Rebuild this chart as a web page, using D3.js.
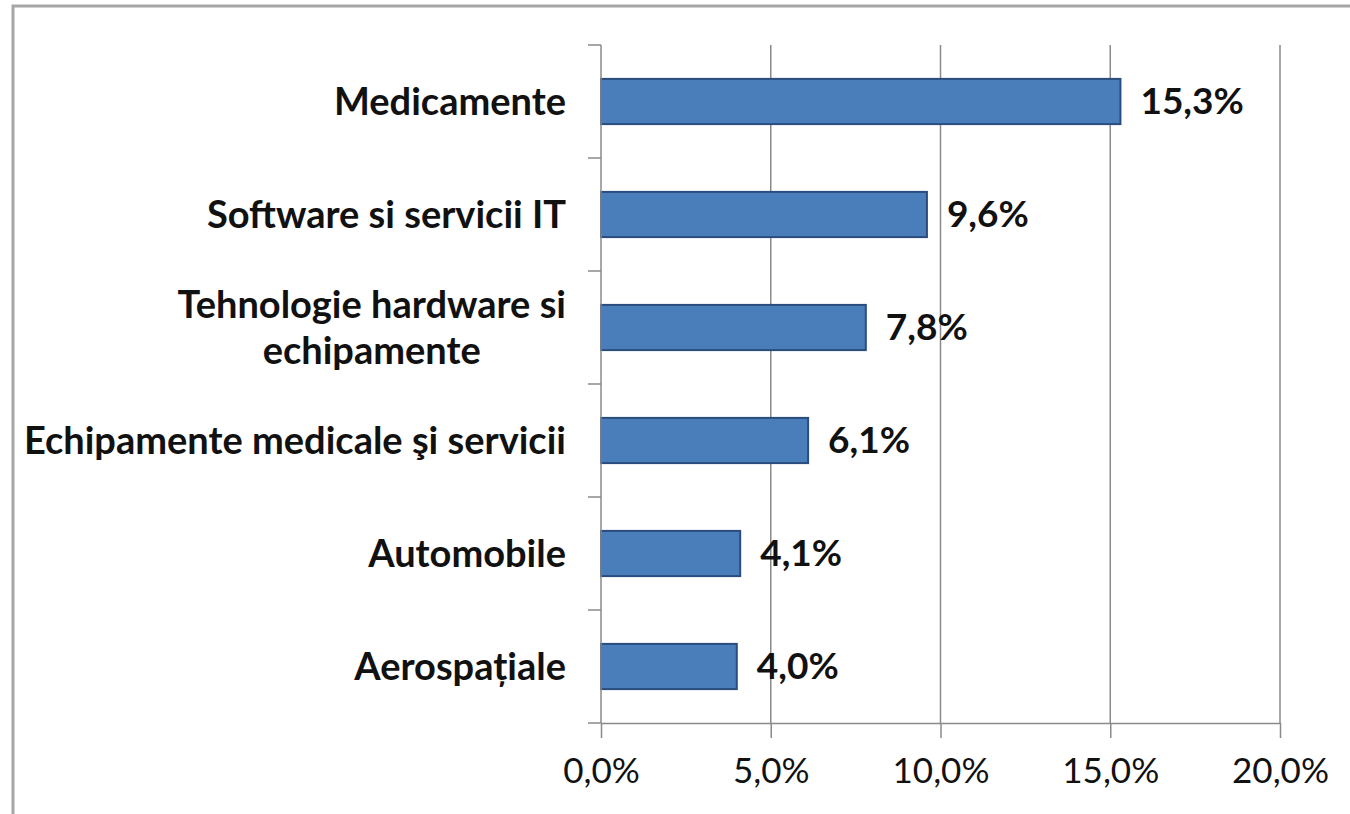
<!DOCTYPE html>
<html>
<head>
<meta charset="utf-8">
<script src="https://cdn.jsdelivr.net/npm/d3@7"></script>
<style>
  html, body { margin: 0; padding: 0; background: #fff; }
  svg { display: block; }
  text { font-family: Lato, "Open Sans", sans-serif; }
</style>
</head>
<body>
<svg id="chart" width="1350" height="814"></svg>
<script>
const categories = [
  ["Medicamente"],
  ["Software si servicii IT"],
  ["Tehnologie hardware si", "echipamente"],
  ["Echipamente medicale şi servicii"],
  ["Automobile"],
  ["Aerospațiale"]
];
const values = [0.153, 0.096, 0.078, 0.061, 0.041, 0.040];
const xTicks = [0, 0.05, 0.10, 0.15, 0.20];

(function () {
const catKeys = categories.map(c => c.join(" "));
const data = catKeys.map((k, i) => ({ key: k, lines: categories[i], value: values[i] }));

const locale = d3.formatLocale({ decimal: ",", thousands: ".", grouping: [3], currency: ["", "€"] });
const fmt = locale.format(".1%");

const svg = d3.select("#chart");
svg.append("rect").attr("width", 1350).attr("height", 814).attr("fill", "#fff");
// outer chart border (extends past the right and bottom edges)
svg.append("rect").attr("x", 13).attr("y", 6).attr("width", 1400).attr("height", 900)
  .attr("fill", "none").attr("stroke", "#a6a6a6").attr("stroke-width", 3);

const pLeft = 601, pRight = 1280, pTop = 45, pBottom = 723;
const x = d3.scaleLinear().domain([0, 0.2]).range([pLeft, pRight]);
const y = d3.scaleBand().domain(catKeys).range([pTop, pBottom]).paddingInner(0.6).paddingOuter(0.3);

const axisColor = "#8a8a8a";

// vertical gridlines
svg.append("g").selectAll("line").data(xTicks.slice(1)).join("line")
  .attr("x1", d => x(d)).attr("x2", d => x(d))
  .attr("y1", pTop).attr("y2", pBottom)
  .attr("stroke", axisColor).attr("stroke-width", 1.5);

// bars
svg.append("g").selectAll("rect").data(data).join("rect")
  .attr("x", x(0))
  .attr("y", d => y(d.key))
  .attr("width", d => x(d.value) - x(0))
  .attr("height", y.bandwidth())
  .attr("fill", "#4a7ebb")
  .attr("stroke", "#2b4d7e")
  .attr("stroke-width", 2);

// x axis
const xAxis = d3.axisBottom(x).tickValues(xTicks).tickFormat(fmt).tickSizeInner(15).tickSizeOuter(0).tickPadding(20);
const gx = svg.append("g").attr("transform", `translate(0,${pBottom})`).call(xAxis);
gx.select(".domain").attr("stroke", axisColor).attr("stroke-width", 1.5);
gx.selectAll(".tick line").attr("stroke", axisColor).attr("stroke-width", 1.5);
gx.selectAll(".tick text").attr("font-size", 35).attr("fill", "#111")
  .style("font-family", "Lato, sans-serif");

// category axis (vertical line + boundary ticks)
svg.append("line").attr("x1", pLeft).attr("x2", pLeft).attr("y1", pTop).attr("y2", pBottom)
  .attr("stroke", axisColor).attr("stroke-width", 1.5);
const step = y.step();
const bounds = catKeys.map(k => y(k) - step * y.paddingInner() / 2).concat([pBottom]);
svg.append("g").selectAll("line").data(bounds).join("line")
  .attr("x1", pLeft - 13).attr("x2", pLeft)
  .attr("y1", d => d).attr("y2", d => d)
  .attr("stroke", axisColor).attr("stroke-width", 1.5);

// category labels
const labelRight = 566;
const lineH = 46;
const cg = svg.append("g");
data.forEach(d => {
  const cy = y(d.key) + y.bandwidth() / 2;
  const t = cg.append("text")
    .attr("font-size", 38).attr("font-weight", "bold").attr("fill", "#111");
  const n = d.lines.length;
  d.lines.forEach((ln, i) => {
    t.append("tspan").attr("y", cy + (i - (n - 1) / 2) * lineH).attr("dy", "0.35em").text(ln);
  });
  let maxW = 0;
  t.selectAll("tspan").each(function () { maxW = Math.max(maxW, this.getComputedTextLength()); });
  if (n > 1) {
    t.attr("text-anchor", "middle");
    t.selectAll("tspan").attr("x", labelRight - maxW / 2);
  } else {
    t.attr("text-anchor", "end");
    t.selectAll("tspan").attr("x", labelRight);
  }
});

// value labels
svg.append("g").selectAll("text").data(data).join("text")
  .attr("x", d => x(d.value) + 20)
  .attr("y", d => y(d.key) + y.bandwidth() / 2)
  .attr("dy", "0.35em")
  .attr("font-size", 37).attr("font-weight", "bold").attr("fill", "#111")
  .text(d => fmt(d.value));
})();
</script>
</body>
</html>
